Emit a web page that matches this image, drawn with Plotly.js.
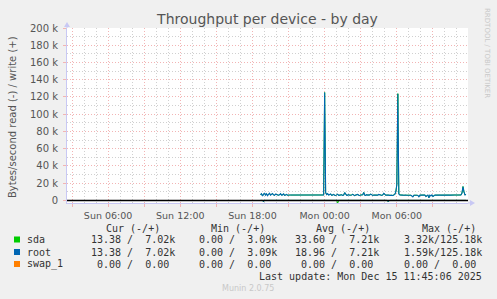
<!DOCTYPE html>
<html>
<head>
<meta charset="utf-8">
<script src="https://cdn.plot.ly/plotly-3.0.1.min.js"></script>
<style>
html,body{margin:0;padding:0;background:#f0f0f0;}
#chart{width:497px;height:299px;}
</style>
</head>
<body>
<div id="chart"></div>
<script>
// ---- data (values in kB/s) ----
const seriesStart = '2025-12-14 18:40';   // first 5-minute sample
const stepMinutes = 5;

const rootWrite = [
  6.8, 7.9, 5.2, 7.4, 8.6, 6.1, 7.7, 5.5, 6.9, 8.3,
  6.2, 7.1, 8.0, 6.4, 5.8, 7.3, 6.6, 6.2, 6.0, 6.5,
  7.9, 6.1, 6.4, 7.6, 5.9, 6.3, 6.9, 6.0, 6.4, 6.2,
  6.2, 6.2, 6.3, 6.2, 6.2, 6.3, 6.2, 6.2, 6.3, 6.2,
  6.2, 6.3, 6.2, 6.2, 6.2, 6.3, 6.2, 6.2, 6.2, 6.3,
  6.2, 6.2, 6.3, 6.2, 6.2, 6.2, 6.3, 6.2, 6.2, 6.2,
  6.3, 6.2, 6.2, 6.3, 125.18, 9.1, 6.8, 7.9, 6.2, 6.6,
  7.4, 5.8, 6.3, 6.9, 6.1, 5.7, 6.4, 7.2, 5.9, 6.3,
  6.0, 6.6, 5.8, 6.2, 9.0, 6.4, 5.9, 6.1, 6.7, 6.0,
  5.8, 6.3, 7.1, 6.0, 5.6, 6.2, 6.4, 6.9, 6.1, 5.7,
  6.3, 6.0, 6.5, 9.2, 6.1, 5.9, 6.6, 6.2, 6.0, 6.4,
  7.3, 6.1, 5.8, 6.2, 6.0, 6.5, 6.3, 6.1, 6.9, 6.0,
  6.2, 5.9, 6.4, 8.1, 6.3, 6.0, 6.2, 6.6, 6.1, 5.9,
  6.3, 6.0, 5.7, 6.2, 7.0, 10.0, 18.2, 123.8, 7.5, 6.4,
  6.0, 6.2, 6.1, 6.0, 6.3, 6.1, 6.0, 6.2, 6.0, 6.1,
  6.0, 5.2, 4.1, 6.0, 6.2, 6.1, 6.0, 5.8, 4.3, 6.1,
  6.0, 6.2, 6.1, 5.9, 6.3, 4.5, 6.0, 6.2, 3.09, 6.1,
  5.2, 6.4, 4.6, 6.0, 6.2, 6.1, 6.3, 6.1, 6.0, 6.2,
  6.1, 6.2, 6.3, 6.2, 6.1, 6.2, 6.3, 6.2, 6.2, 6.1,
  6.3, 6.2, 6.2, 6.1, 6.3, 6.2, 6.2, 6.3, 6.2, 6.2,
  6.3, 8.5, 16.1, 9.8, 6.4, 7.02
];
const sdaWrite = rootWrite;   // identical per the legend (same cur/min/avg/max)

const sdaRead = [
  0, 0, 0, 1.59, 0, 0, 0, 0, 0, 0, 0, 0, 0, 0, 0, 0, 0, 0, 0, 0,
  0, 0, 0, 0, 0, 0, 0, 0, 0, 0, 0, 0, 0, 0, 0, 0, 0, 0, 0, 0,
  0, 0, 0, 0, 0, 0, 0, 0, 0, 0, 0, 0, 0, 0, 0, 0, 0, 0, 0, 0,
  0, 0, 0, 0, 0, 0, 0, 0, 0, 0, 0, 0, 0, 0, 0, 0, 0, 3.32, 0, 0,
  0, 0, 0, 0, 0, 0, 0, 0, 0, 0, 0, 0, 0, 0, 0, 0, 0, 0, 0, 0,
  0, 0, 0, 0, 0, 0, 0, 0, 0, 0, 0, 0, 0, 0, 0, 0, 0, 0, 0, 0,
  0, 0, 0, 0, 0, 0, 0, 1.2, 0, 0, 0, 0, 0, 0, 0, 0, 0, 0, 0, 0,
  0, 0, 0, 0, 0, 0, 0, 0, 0, 0, 0, 0, 0, 0, 0, 0, 0, 0, 0, 0,
  0, 0, 0, 0, 0, 0, 0, 0, 0, 0, 0, 0, 0, 0, 0, 0, 0, 0, 0, 0,
  0, 0, 0, 0, 0, 0, 0, 0, 0, 0, 0, 0, 0, 0, 0, 0, 0, 0, 0, 0,
  0, 0, 0, 0, 0, 0.01
];
const rootRead = [
  0, 0, 0, 1.59, 0, 0, 0, 0, 0, 0, 0, 0, 0, 0, 0, 0, 0, 0, 0, 0,
  0, 0, 0, 0, 0, 0, 0, 0, 0, 0, 0, 0, 0, 0, 0, 0, 0, 0, 0, 0,
  0, 0, 0, 0, 0, 0, 0, 0, 0, 0, 0, 0, 0, 0, 0, 0, 0, 0, 0, 0,
  0, 0, 0, 0, 0, 0, 0, 0, 0, 0, 0, 0, 0, 0, 0, 0, 0, 0, 0, 0,
  0, 0, 0, 0, 0, 0, 0, 0, 0, 0, 0, 0, 0, 0, 0, 0, 0, 0, 0, 0,
  0, 0, 0, 0, 0, 0, 0, 0, 0, 0, 0, 0, 0, 0, 0, 0, 0, 0, 0, 0,
  0, 0, 0, 0, 0, 0, 0, 1.2, 0, 0, 0, 0, 0, 0, 0, 0, 0, 0, 0, 0,
  0, 0, 0, 0, 0, 0, 0, 0, 0, 0, 0, 0, 0, 0, 0, 0, 0, 0, 0, 0,
  0, 0, 0, 0, 0, 0, 0, 0, 0, 0, 0, 0, 0, 0, 0, 0, 0, 0, 0, 0,
  0, 0, 0, 0, 0, 0, 0, 0, 0, 0, 0, 0, 0, 0, 0, 0, 0, 0, 0, 0,
  0, 0, 0, 0, 0, 0.01
];

// axis ticks
const xTickVals = ['2025-12-14 03:00','2025-12-14 06:00','2025-12-14 09:00','2025-12-14 12:00',
  '2025-12-14 15:00','2025-12-14 18:00','2025-12-14 21:00','2025-12-15 00:00',
  '2025-12-15 03:00','2025-12-15 06:00','2025-12-15 09:00'];
const xTickText = ['','Sun 06:00','','Sun 12:00','','Sun 18:00','','Mon 00:00','','Mon 06:00',''];
const yTickVals = [0,20,40,60,80,100,120,140,160,180,200];
const yTickText = ['0','20 k','40 k','60 k','80 k','100 k','120 k','140 k','160 k','180 k','200 k'];

// legend table
const legendNames  = ['sda','root','swap_1'];
const legendColors = ['#00cc00','#0066b3','#ff8000'];
const legendHeaders = ['Cur (-/+)','Min (-/+)','Avg (-/+)','Max (-/+)'];
const legendCur = ['13.38 /  7.02k','13.38 /  7.02k',' 0.00 /  0.00 '];
const legendMin = [' 0.00 /  3.09k',' 0.00 /  3.09k',' 0.00 /  0.00 '];
const legendAvg = ['33.60 /  7.21k','18.96 /  7.21k',' 0.00 /  0.00 '];
const legendMax = ['3.32k/125.18k','1.59k/125.18k',' 0.00 /  0.00 '];
const lastUpdate = 'Last update: Mon Dec 15 11:45:06 2025';

// ---- build ----
function pad2(n){return (n<10?'0':'')+n;}
const base = Date.UTC(2025,11,14,18,40);
const times = rootWrite.map((_,i)=>{
  const d = new Date(base + i*stepMinutes*60000);
  return d.getUTCFullYear()+'-'+pad2(d.getUTCMonth()+1)+'-'+pad2(d.getUTCDate())+' '+pad2(d.getUTCHours())+':'+pad2(d.getUTCMinutes());
});
const neg = a => a.map(v=>-v);

const L=67, R=468, T=28, B=203, W=497, H=299;
const px = x => (x-L)/(R-L);
const py = y => (B-y)/(B-T);
const nb = s => s.replace(/ /g,'\u00a0');

const traces = [
  {x:times, y:neg(sdaRead), mode:'lines', line:{color:'#00cc00', width:1}, hoverinfo:'skip'},
  {x:times, y:neg(rootRead), mode:'lines', line:{color:'#0066b3', width:1}, hoverinfo:'skip'},
  {x:times, y:sdaWrite, mode:'lines', line:{color:'#00cc00', width:1}, hoverinfo:'skip'},
  {x:times, y:rootWrite, mode:'lines', line:{color:'#0066b3', width:1.1}, hoverinfo:'skip'}
];

const mono = {family:'DejaVu Sans Mono', size:10, color:'#333'};
const ann = [];
ann.push({xref:'paper', yref:'paper', x:px(12), y:py(117), text:'Bytes/second read (-) / write (+)',
  textangle:-90, showarrow:false, font:{family:'DejaVu Sans', size:10, color:'#555'}, xanchor:'center', yanchor:'middle'});
ann.push({xref:'paper', yref:'paper', x:px(487), y:py(53), text:'RRDTOOL / TOBI OETIKER',
  textangle:90, showarrow:false, font:{family:'DejaVu Sans', size:7, color:'#c8c8c8'}, xanchor:'center', yanchor:'middle'});
const headerRight = [161, 266, 371, 477];
legendHeaders.forEach((h,i)=>ann.push({xref:'paper', yref:'paper', x:px(headerRight[i]+1), y:py(228),
  text:nb(h), showarrow:false, font:mono, xanchor:'right', yanchor:'middle'}));
const rowY = [239.5, 252, 264];
const colRight = [177, 279, 381, 484];
legendNames.forEach((n,r)=>{
  ann.push({xref:'paper', yref:'paper', x:px(25), y:py(rowY[r]), text:nb(n), showarrow:false, font:mono, xanchor:'left', yanchor:'middle'});
  [legendCur,legendMin,legendAvg,legendMax].forEach((col,c)=>ann.push({xref:'paper', yref:'paper', x:px(colRight[c]), y:py(rowY[r]),
    text:nb(col[r]), showarrow:false, font:mono, xanchor:'right', yanchor:'middle'}));
});
ann.push({xref:'paper', yref:'paper', x:px(484), y:py(276), text:nb(lastUpdate), showarrow:false, font:mono, xanchor:'right', yanchor:'middle'});
ann.push({xref:'paper', yref:'paper', x:px(248), y:py(288), text:'Munin 2.0.75', showarrow:false,
  font:{family:'DejaVu Sans', size:8, color:'#c8c8c8'}, xanchor:'center', yanchor:'middle'});

const axisCol = '#c8c8f4';
const shapes = [
  {type:'line', xref:'paper', yref:'y', x0:0, x1:1, y0:0, y1:0, line:{color:'#000', width:1.5}, layer:'above'},
  {type:'line', xref:'paper', yref:'paper', x0:1, x1:px(472), y0:0, y1:0, line:{color:axisCol, width:1}},
  {type:'path', xref:'paper', yref:'paper', path:`M ${px(470)} ${py(200)} L ${px(475)} ${py(203)} L ${px(470)} ${py(206)} Z`, fillcolor:axisCol, line:{width:0}},
  {type:'line', xref:'paper', yref:'paper', x0:0, x1:0, y0:1, y1:py(24), line:{color:axisCol, width:1}},
  {type:'path', xref:'paper', yref:'paper', path:`M ${px(64)} ${py(27)} L ${px(67)} ${py(22)} L ${px(70)} ${py(27)} Z`, fillcolor:axisCol, line:{width:0}}
];
legendColors.forEach((c,r)=>shapes.push({type:'rect', xref:'paper', yref:'paper',
  x0:px(14), x1:px(20), y0:py(rowY[r]-3), y1:py(rowY[r]+3), fillcolor:c, line:{width:0}}));

const redGrid = '#f2b4b4';
const layout = {
  width:W, height:H,
  margin:{l:L, r:W-R, t:T, b:H-B, pad:0},
  paper_bgcolor:'#f0f0f0', plot_bgcolor:'#ffffff',
  showlegend:false,
  title:{text:'Throughput per device - by day', x:0.5, xref:'paper', xanchor:'center', y:1-19/H, yanchor:'middle',
    font:{family:'DejaVu Sans', size:14, color:'#555'}},
  xaxis:{type:'date', range:['2025-12-14 02:35','2025-12-15 11:55'], tickmode:'array', tickvals:xTickVals, ticktext:xTickText,
    showgrid:true, gridcolor:redGrid, griddash:'1px,2px', gridwidth:1,
    ticks:'outside', ticklen:3, tickcolor:redGrid, tickfont:{family:'DejaVu Sans', size:9.5, color:'#555'}, ticklabelstandoff:1,
    showline:true, linecolor:axisCol, linewidth:1, zeroline:false, fixedrange:true,
    minor:{tickmode:'linear', tick0:'2025-12-14 00:00', dtick:3600000, showgrid:true, gridcolor:'#d0d0d0', griddash:'1px,2px', ticks:''}},
  yaxis:{range:[-3,200], tickmode:'array', tickvals:yTickVals, ticktext:yTickText,
    showgrid:true, gridcolor:redGrid, griddash:'1px,2px', gridwidth:1,
    ticks:'outside', ticklen:3, tickcolor:redGrid, tickfont:{family:'DejaVu Sans', size:10, color:'#555'}, ticklabelstandoff:3,
    showline:true, linecolor:axisCol, linewidth:1, zeroline:false, fixedrange:true,
    minor:{tickmode:'linear', tick0:0, dtick:10, showgrid:true, gridcolor:'#d0d0d0', griddash:'1px,2px', ticks:''}},
  annotations:ann,
  shapes:shapes
};
Plotly.newPlot('chart', traces, layout, {staticPlot:true, displayModeBar:false});
</script>
</body>
</html>
